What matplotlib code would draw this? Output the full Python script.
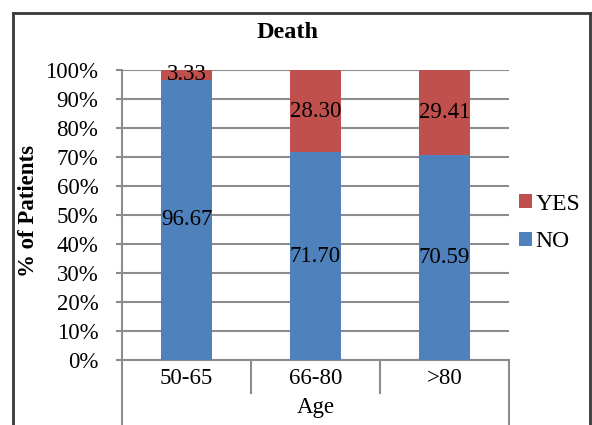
import matplotlib
matplotlib.use("Agg")
import matplotlib.pyplot as plt
from matplotlib.patches import Patch
from matplotlib.lines import Line2D

categories = ["50-65", "66-80", ">80"]
no_vals = [96.67, 71.70, 70.59]
yes_vals = [3.33, 28.30, 29.41]
yticks = [0, 10, 20, 30, 40, 50, 60, 70, 80, 90, 100]
ytick_labels = [f"{t}%" for t in yticks]

BLUE = "#4F81BD"
RED = "#C0504D"
GRID = "#8c8c8c"
FS = 16.5

plt.rcParams['font.family'] = ['Liberation Serif', 'DejaVu Serif']

W, H = 592, 425
fig = plt.figure(figsize=(W / 100, H / 100), dpi=100)
ax = fig.add_axes([122 / W, 1 - 360 / H, (509 - 122) / W, (360 - 70) / H])

x = list(range(len(categories)))
bw = 0.4
ax.bar(x, no_vals, width=bw, color=BLUE, zorder=3)
ax.bar(x, yes_vals, width=bw, bottom=no_vals, color=RED, zorder=3)

for i in x:
    ax.text(i, no_vals[i] / 2, f"{no_vals[i]:.2f}", ha='center', va='center',
            fontsize=FS, color='black', zorder=4)
    ax.text(i, no_vals[i] + yes_vals[i] / 2, f"{yes_vals[i]:.2f}", ha='center',
            va='center', fontsize=FS, color='black', zorder=4)

ax.set_xlim(-0.5, len(categories) - 0.5)
ax.set_ylim(0, 100)
ax.set_yticks(yticks)
ax.set_yticklabels(ytick_labels, fontsize=FS)
ax.yaxis.grid(True, color=GRID, linewidth=1.5, zorder=0)
ax.tick_params(axis='y', length=4, width=1.5, color=GRID, pad=13)
ax.set_xticks([])
for s in ['top', 'right']:
    ax.spines[s].set_visible(False)
for s in ['left', 'bottom']:
    ax.spines[s].set_color(GRID)
    ax.spines[s].set_linewidth(1.5)

# category area lines
tr = ax.get_xaxis_transform()
for xb in [0.5, 1.5]:
    ax.plot([xb, xb], [0, -0.114], transform=tr, color=GRID, lw=1.5, clip_on=False)
for xb in [-0.5, len(categories) - 0.5]:
    ax.plot([xb, xb], [0, -0.35], transform=tr, color=GRID, lw=1.5, clip_on=False)

for i, c in enumerate(categories):
    ax.text(i, -0.0655, c, transform=tr, ha='center', va='center', fontsize=FS)
ax.text(1, -0.1655, "Age", transform=tr, ha='center', va='center', fontsize=FS)

# title and y label
fig.text(288 / W, 1 - 33 / H, "Death", ha='center', va='center', fontsize=17.5,
         fontweight='bold')
fig.text(28 / W, 1 - 211 / H, "% of Patients", ha='center', va='center',
         rotation=90, fontsize=FS, fontweight='bold')

# legend
handles = [Patch(facecolor=RED, edgecolor='none', label='YES'),
           Patch(facecolor=BLUE, edgecolor='none', label='NO')]
fig.legend(handles=handles, loc='center left', bbox_to_anchor=(519 / W, 1 - 223 / H),
           frameon=False, fontsize=17, handlelength=0.55, handleheight=0.55,
           handletextpad=0.15, labelspacing=0.7, borderpad=0, borderaxespad=0)

# outer frame
FC = "#383838"
fig.add_artist(Line2D([13 / W, 13 / W], [-0.1, 1 - 13 / H], color=FC, lw=2,
                      transform=fig.transFigure))
fig.add_artist(Line2D([13 / W, 590 / W], [1 - 13 / H, 1 - 13 / H], color=FC, lw=2,
                      transform=fig.transFigure))
fig.add_artist(Line2D([590 / W, 590 / W], [-0.1, 1 - 13 / H], color=FC, lw=2,
                      transform=fig.transFigure))

fig.savefig("out.png", dpi=100)
